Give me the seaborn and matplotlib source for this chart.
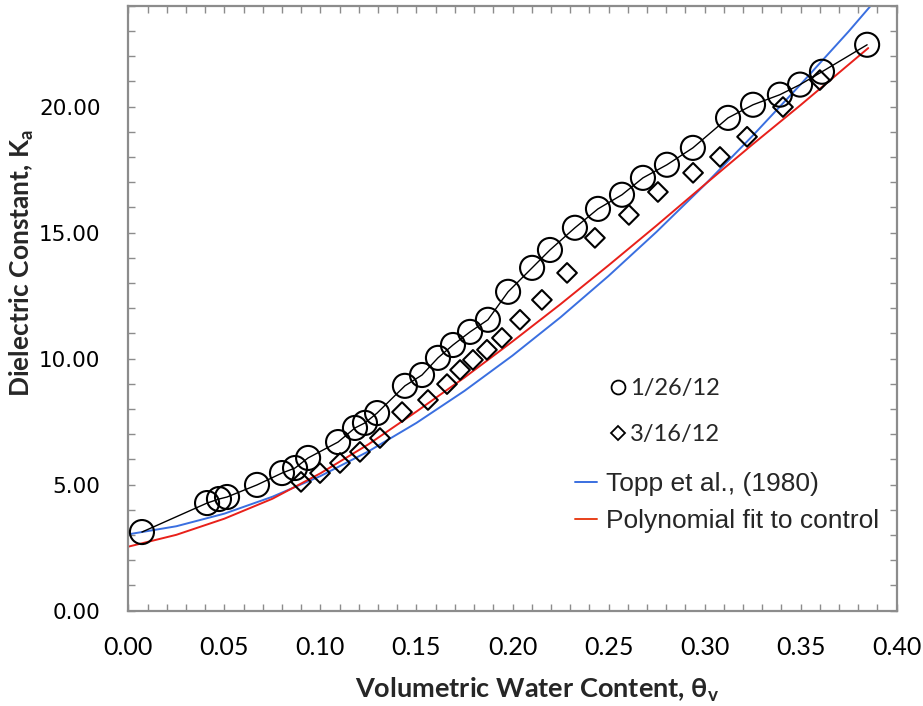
import matplotlib
matplotlib.use("Agg")
import matplotlib.pyplot as plt
import seaborn as sns
import pandas as pd
from matplotlib.ticker import MultipleLocator, FormatStrFormatter
from matplotlib.lines import Line2D

# ---- data ----
theta_0126 = [0.0071, 0.0410, 0.0472, 0.0514, 0.0670, 0.0800, 0.0868, 0.0936, 0.1092,
              0.1180, 0.1232, 0.1295, 0.1440, 0.1529, 0.1612, 0.1690, 0.1779, 0.1872,
              0.1977, 0.2102, 0.2195, 0.2325, 0.2445, 0.2570, 0.2679, 0.2804, 0.2939,
              0.3122, 0.3252, 0.3392, 0.3497, 0.3611, 0.3846]
ka_0126 = [3.12, 4.27, 4.43, 4.51, 4.99, 5.46, 5.66, 6.06, 6.69,
           7.25, 7.45, 7.84, 8.92, 9.35, 10.03, 10.54, 11.06, 11.54,
           12.65, 13.60, 14.31, 15.19, 15.94, 16.50, 17.17, 17.69, 18.36,
           19.55, 20.07, 20.47, 20.87, 21.38, 22.45]

theta_0316 = [0.0899, 0.0998, 0.1102, 0.1206, 0.1310, 0.1425, 0.1560, 0.1659, 0.1727,
              0.1794, 0.1867, 0.1945, 0.2039, 0.2153, 0.2284, 0.2429, 0.2606, 0.2757,
              0.2940, 0.3080, 0.3221, 0.3408, 0.3600]
ka_0316 = [5.11, 5.46, 5.86, 6.30, 6.85, 7.88, 8.36, 8.99, 9.55,
           9.95, 10.35, 10.82, 11.54, 12.33, 13.40, 14.79, 15.70, 16.61,
           17.37, 18.00, 18.80, 19.98, 21.05]

theta_topp = [0.0, 0.025, 0.05, 0.075, 0.10, 0.125, 0.15, 0.175, 0.20, 0.225,
              0.25, 0.275, 0.30, 0.325, 0.35, 0.375, 0.39]
ka_topp = [3.03, 3.35, 3.85, 4.52, 5.34, 6.32, 7.45, 8.72, 10.12, 11.64,
           13.28, 15.03, 16.89, 18.84, 20.88, 22.98, 24.31]

theta_poly = [0.0, 0.025, 0.05, 0.075, 0.10, 0.125, 0.15, 0.175, 0.20, 0.225,
              0.25, 0.275, 0.30, 0.325, 0.35, 0.3852]
ka_poly = [2.54, 3.01, 3.65, 4.44, 5.45, 6.60, 7.90, 9.25, 10.68, 12.16,
           13.70, 15.28, 16.90, 18.50, 20.06, 22.32]

x_ticks = [0.00, 0.05, 0.10, 0.15, 0.20, 0.25, 0.30, 0.35, 0.40]
y_ticks = [0.0, 5.0, 10.0, 15.0, 20.0]

labels = ["1/26/12", "3/16/12", "Topp et al., (1980)", "Polynomial fit to control"]

# ---- styling ----
sns.set_theme(style="white")
plt.rcParams['font.family'] = ['DejaVu Sans']
plt.rcParams['mathtext.default'] = 'regular'

W, H = 923, 706
fig = plt.figure(figsize=(W / 100, H / 100), dpi=100)
L, R, T, B = 128.3, 896.7, 5.7, 610.7
ax = fig.add_axes([L / W, 1 - B / H, (R - L) / W, (B - T) / H])

df1 = pd.DataFrame({"theta": theta_0126, "ka": ka_0126})
df2 = pd.DataFrame({"theta": theta_0316, "ka": ka_0316})
dft = pd.DataFrame({"theta": theta_topp, "ka": ka_topp})
dfp = pd.DataFrame({"theta": theta_poly, "ka": ka_poly})

sns.lineplot(data=dft, x="theta", y="ka", color="#3a6fe0", lw=1.4, ax=ax,
             estimator=None, zorder=2)
sns.lineplot(data=dfp, x="theta", y="ka", color="#e8201a", lw=1.4, ax=ax,
             estimator=None, zorder=2)
sns.lineplot(data=df1, x="theta", y="ka", color="black", lw=1.0, ax=ax,
             estimator=None, zorder=3)
sns.scatterplot(data=df1, x="theta", y="ka", marker="o", s=300, facecolor="none",
                edgecolor="black", linewidth=1.5, ax=ax, zorder=4)
sns.scatterplot(data=df2, x="theta", y="ka", marker="D", s=100, facecolor="none",
                edgecolor="black", linewidth=1.5, ax=ax, zorder=4)

ax.set_xlim(0, 0.40)
ax.set_ylim(0, 24)
ax.set_xticks(x_ticks)
ax.set_yticks(y_ticks)
ax.xaxis.set_minor_locator(MultipleLocator(0.01))
ax.yaxis.set_minor_locator(MultipleLocator(1))
ax.xaxis.set_major_formatter(FormatStrFormatter("%.2f"))
ax.yaxis.set_major_formatter(FormatStrFormatter("%.2f"))

gray = "#8c8c8c"
for sp in ax.spines.values():
    sp.set_color(gray)
    sp.set_linewidth(1.6)
ax.tick_params(which="both", direction="in", top=True, right=True, bottom=True, left=True,
               color=gray, width=1.0, length=5)
ax.tick_params(axis="y", which="major", pad=20, labelsize=15.5, labelcolor="black")
ax.tick_params(axis="x", which="major", pad=18, labelsize=18, labelcolor="black")
for lab in ax.get_xticklabels():
    lab.set_fontfamily(["Lato", "DejaVu Sans"])
for lab in ax.get_yticklabels():
    lab.set_fontfamily(["DejaVu Sans"])

ax.set_xlabel("Volumetric Water Content, θ$_\\mathregular{v}$", fontsize=19.5,
              fontweight="bold", family=["Lato", "DejaVu Sans"])
ax.set_ylabel("Dielectric Constant, K$_\\mathregular{a}$", fontsize=19,
              fontweight="bold", family=["Lato", "DejaVu Sans"])
ax.xaxis.set_label_coords(0.532, -0.108)
ax.yaxis.set_label_coords(-0.120, 0.575)
ax.grid(False)

# ---- legends ----
h_mark = [Line2D([], [], ls="none", marker="o", ms=10, mfc="none", mec="black", mew=1.3),
          Line2D([], [], ls="none", marker="D", ms=7.5, mfc="none", mec="black", mew=1.3)]
leg1 = ax.legend(h_mark, labels[:2], loc="upper left", bbox_to_anchor=(611 / W, 1 - 378 / H),
                 bbox_transform=fig.transFigure, frameon=False, borderpad=0, borderaxespad=0,
                 handlelength=0.6, handletextpad=0.2, labelspacing=1.05,
                 prop={"family": ["Lato", "DejaVu Sans"], "size": 17})
ax.add_artist(leg1)
h_line = [Line2D([], [], color="#3a6fe0", lw=1.4), Line2D([], [], color="#e8401a", lw=1.4)]
leg2 = ax.legend(h_line, labels[2:], loc="upper left", bbox_to_anchor=(575 / W, 1 - 472 / H),
                 bbox_transform=fig.transFigure, frameon=False, borderpad=0, borderaxespad=0,
                 handlelength=0.82, handletextpad=0.35, labelspacing=0.5,
                 prop={"family": ["Liberation Sans", "DejaVu Sans"], "size": 19})

fig.savefig("out.png", dpi=100)
